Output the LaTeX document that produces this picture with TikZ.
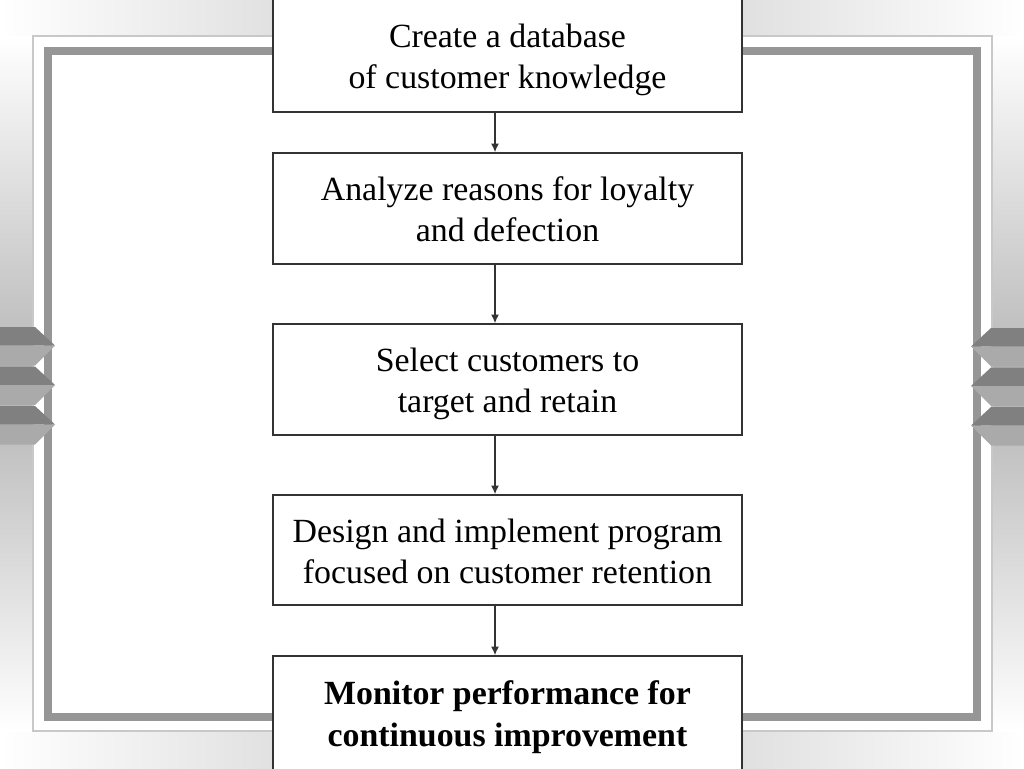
\documentclass[tikz,border=0pt]{standalone}
\usepackage{fontspec}
\setmainfont{Liberation Serif}
\usetikzlibrary{arrows.meta}
\definecolor{frameGray}{RGB}{150,150,150}
\definecolor{edgeGray}{RGB}{200,200,200}
\definecolor{bandGray}{RGB}{180,180,180}
\definecolor{chevDark}{RGB}{128,128,128}
\definecolor{chevLight}{RGB}{170,170,170}
\definecolor{boxLine}{RGB}{51,51,51}

\begin{document}
\begin{tikzpicture}[
x=0.75pt, y=-0.75pt,
box/.style = {
	draw=boxLine,
	line width=1.1pt,
	fill=white,
	align=center,
	inner sep=0pt,
	minimum width=351.75pt,
	minimum height=83.25pt,
	font=\fontsize{25.4}{30.75}\selectfont,
	execute at begin node={\rule{0pt}{56.5pt}},
	execute at end node={\rule[-7pt]{0pt}{0pt}}
	},
lastBox/.style = {
	box,
	font=\fontsize{25.4}{31.5}\selectfont\bfseries
	},
flowArr/.style = {
	-{Latex[length=6.5pt,width=6pt]},
	line width=1.1pt,
	boxLine
	}
]
\useasboundingbox (0,0) rectangle (1024,768);
\clip (0,0) rectangle (1024,768);

% BACKGROUND BANDS
\shade [left color=white, right color=white, middle color=black!22] (0,0) rectangle (1024,36);
\shade [left color=white, right color=white, middle color=black!22] (0,731) rectangle (1024,768);
\shade [top color=white, bottom color=white, middle color=bandGray] (0,36) rectangle (33,731);
\shade [top color=white, bottom color=white, middle color=bandGray] (992,36) rectangle (1024,731);

% FRAME
\draw [edgeGray, line width=1.2pt, fill=white] (33,36) rectangle (992,731);
\draw [frameGray, line width=6pt] (48,51) rectangle (976.5,716.5);

% CHEVRONS
\foreach \yc in {327,366.5,406} {
	\fill [chevDark] (0,\yc) -- (35,\yc) -- (55,\yc+18.5) -- (0,\yc+18.5) -- cycle;
	\fill [chevLight] (0,\yc+18.5) -- (55,\yc+18.5) -- (35,\yc+38.5) -- (0,\yc+38.5) -- cycle;
}
\foreach \yc in {328,367.5,407} {
	\fill [chevDark] (1024,\yc) -- (991,\yc) -- (971,\yc+18.5) -- (1024,\yc+18.5) -- cycle;
	\fill [chevLight] (1024,\yc+18.5) -- (971,\yc+18.5) -- (991,\yc+38.5) -- (1024,\yc+38.5) -- cycle;
}

% FLOW NODES
\node [box, minimum height=85.5pt] (create) at (507.5,55) {Create a database\\of customer knowledge};
\node [box] (analyze) at (507.5,208.5) {Analyze reasons for loyalty\\and defection};
\node [box] (select) at (507.5,379.5) {Select customers to\\target and retain};
\node [box, minimum height=82.5pt] (design) at (507.5,550) {Design and implement program\\focused on customer retention};
\node [lastBox, minimum height=85.5pt] (monitor) at (507.5,713) {Monitor performance for\\continuous improvement};

% PATHS
\coordinate (arrX) at (495,0);
\draw [flowArr] (create.south -| arrX) -- (analyze.north -| arrX);
\draw [flowArr] (analyze.south -| arrX) -- (select.north -| arrX);
\draw [flowArr] (select.south -| arrX) -- (design.north -| arrX);
\draw [flowArr] (design.south -| arrX) -- (monitor.north -| arrX);
\end{tikzpicture}
\end{document}
